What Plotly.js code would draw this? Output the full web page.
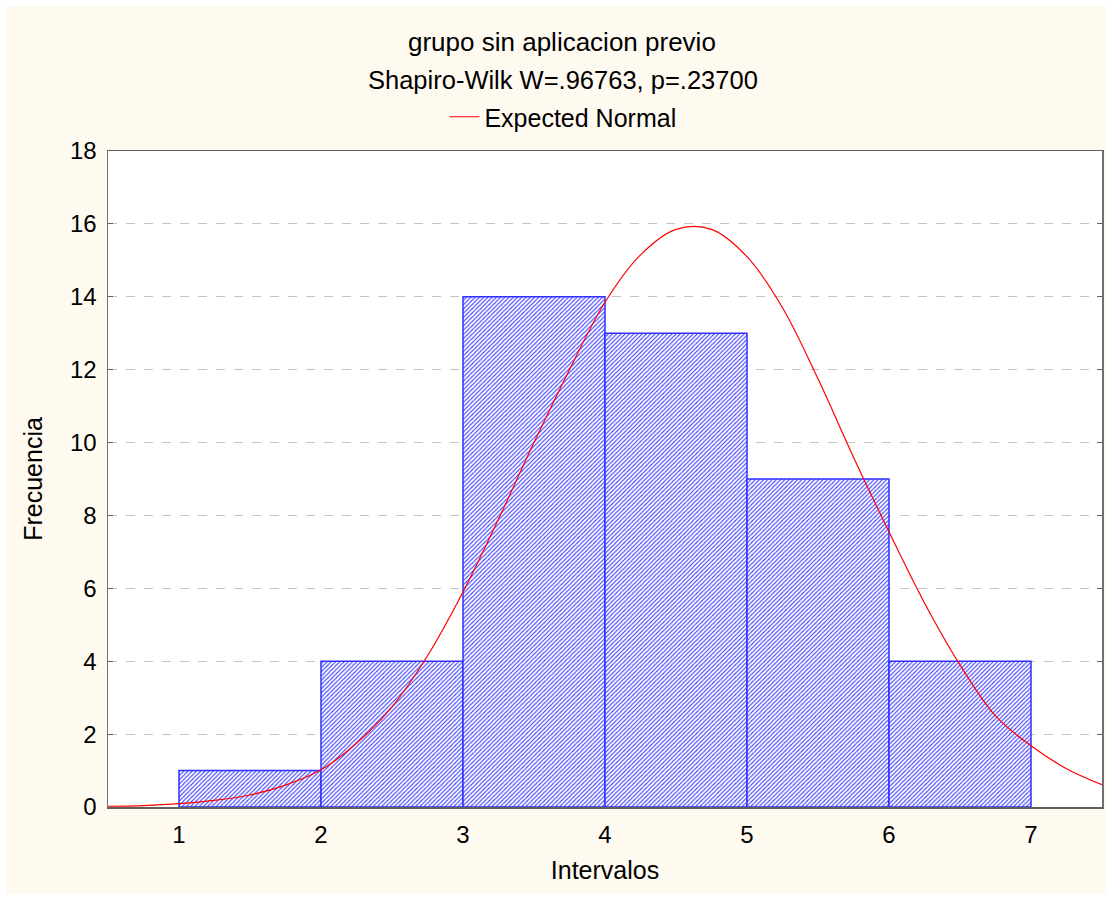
<!DOCTYPE html>
<html>
<head>
<meta charset="utf-8">
<script src="https://cdn.plot.ly/plotly-3.0.1.min.js"></script>
<style>
  html, body { margin: 0; padding: 0; background: #ffffff; }
  #chart { position: absolute; left: 6px; top: 6px; width: 1101px; height: 888px; }
</style>
</head>
<body>
<div id="chart"></div>
<script>
// Histogram bins (left edge of each interval) and observed frequencies
const binStart = [1, 2, 3, 4, 5, 6];
const frequencies = [1, 4, 14, 13, 9, 4];

// Expected normal curve
const curveX = [0.5, 0.75, 1.0, 1.25, 1.5, 1.75, 2.0, 2.25, 2.5, 2.75, 3.0, 3.25, 3.5, 3.75, 4.0, 4.25, 4.5, 4.75, 5.0, 5.25, 5.5, 5.75, 6.0, 6.25, 6.5, 6.75, 7.0, 7.25, 7.5];
const curveY = [0.02, 0.04, 0.09, 0.18, 0.33, 0.6, 1.02, 1.75, 2.75, 4.15, 5.9, 7.9, 10.0, 12.0, 13.85, 15.15, 15.85, 15.85, 15.1, 13.7, 11.75, 9.6, 7.55, 5.6, 3.9, 2.5, 1.68, 1.05, 0.61];

const xTicks = [1, 2, 3, 4, 5, 6, 7];
const yTicks = [0, 2, 4, 6, 8, 10, 12, 14, 16, 18];

const titleLine1 = 'grupo sin aplicacion previo';
const titleLine2 = 'Shapiro-Wilk W=.96763, p=.23700';
const legendName = 'Expected Normal';
const xTitle = 'Intervalos';
const yTitle = 'Frecuencia';

const FONT = 'Liberation Sans, Arial, sans-serif';

const bars = {
  type: 'bar',
  x: binStart,
  y: frequencies,
  offset: 0,
  width: 1,
  showlegend: false,
  hoverinfo: 'x+y',
  marker: {
    color: '#ffffff',
    line: { color: '#3030ff', width: 1.5 },
    pattern: { shape: '/', fgcolor: '#3a3aff', bgcolor: '#ffffff', size: 3, solidity: 0.35 }
  }
};

const curve = {
  type: 'scatter',
  mode: 'lines',
  x: curveX,
  y: curveY,
  name: legendName,
  line: { color: '#ff0000', width: 1.2, shape: 'spline', smoothing: 1 },
  showlegend: true
};

const W = 1101, H = 888;
const m = { l: 101.5, r: 5.3, t: 145, b: 87 };
const pw = W - m.l - m.r, ph = H - m.t - m.b;
function px(xPage) { return (xPage - 6 - m.l) / pw; }
function py(yPage) { return 1 - (yPage - 6 - m.t) / ph; }

const layout = {
  width: W,
  height: H,
  margin: m,
  paper_bgcolor: '#fffaf0',
  plot_bgcolor: '#ffffff',
  font: { family: FONT, size: 24, color: '#000000' },
  bargap: 0,
  showlegend: true,
  legend: {
    orientation: 'h',
    x: px(444), y: py(94),
    xanchor: 'left', yanchor: 'top',
    bgcolor: 'rgba(0,0,0,0)',
    font: { family: FONT, size: 25, color: '#000000' },
    itemwidth: 30
  },
  xaxis: {
    range: [0.5, 7.5],
    tickvals: xTicks,
    ticktext: xTicks.map(String),
    showgrid: false,
    zeroline: false,
    showline: true,
    mirror: true,
    linecolor: '#606060',
    linewidth: 1.5,
    ticks: '',
    ticklabelstandoff: 6,
    tickfont: { family: FONT, size: 24, color: '#000000' },
    title: { text: xTitle, font: { family: FONT, size: 25, color: '#000000' }, standoff: 14 }
  },
  yaxis: {
    range: [0, 18],
    tickvals: yTicks,
    ticktext: yTicks.map(String),
    showgrid: true,
    gridcolor: '#c4c4c4',
    griddash: 'dash',
    gridwidth: 1,
    zeroline: false,
    showline: true,
    mirror: 'ticks',
    linecolor: '#707070',
    linewidth: 1.5,
    ticks: 'inside',
    ticklen: 5,
    tickcolor: '#606060',
    ticklabelstandoff: 5,
    tickfont: { family: FONT, size: 24, color: '#000000' },
    title: { text: yTitle, font: { family: FONT, size: 25, color: '#000000' }, standoff: 20 }
  },
  annotations: [
    { text: titleLine1, xref: 'paper', yref: 'paper', x: px(562), y: py(42), xanchor: 'center', yanchor: 'middle', showarrow: false, font: { family: FONT, size: 26, color: '#000000' } },
    { text: titleLine2, xref: 'paper', yref: 'paper', x: px(563), y: py(80), xanchor: 'center', yanchor: 'middle', showarrow: false, font: { family: FONT, size: 25.5, color: '#000000' } }
  ]
};

Plotly.newPlot('chart', [bars, curve], layout, { displayModeBar: false, staticPlot: true });
</script>
</body>
</html>
